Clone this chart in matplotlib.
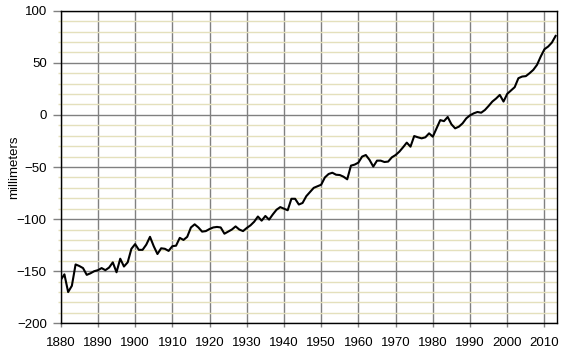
import numpy as np
import matplotlib
matplotlib.use("Agg")
import matplotlib.pyplot as plt
from matplotlib.ticker import MultipleLocator

# ===============================
# Dados
# ===============================
anos = list(range(1880, 2014))

nivel_mm = [
    -158.4, -153.0, -170.0, -164.0, -143.5, -145.0, -147.0, -153.5, -152.0, -150.0,
    -149.0, -147.0, -149.0, -146.5, -141.5, -151.0, -138.0, -145.5, -141.5, -128.5,
    -124.0, -129.5, -129.5, -124.5, -117.0, -126.0, -133.5, -128.0, -128.5, -130.5,
    -126.0, -125.5, -118.0, -120.0, -117.0, -108.0, -105.0, -108.0, -112.0, -111.5,
    -109.5, -108.0, -107.5, -108.0, -114.0, -112.0, -110.0, -107.0, -110.0, -111.5,
    -108.5, -106.0, -102.5, -97.5, -101.5, -97.0, -100.5, -95.5, -91.0, -88.5,
    -90.0, -91.5, -80.5, -80.5, -86.0, -84.5, -78.0, -74.0, -70.0, -68.5,
    -67.0, -60.0, -56.7, -55.5, -57.4, -57.7, -59.3, -61.8, -48.7, -47.7,
    -45.8, -40.0, -38.5, -43.2, -49.6, -43.9, -43.9, -45.2, -44.8, -40.7,
    -38.5, -35.3, -31.1, -26.6, -30.5, -20.3, -21.5, -22.5, -21.5, -17.7,
    -20.9, -12.9, -5.0, -6.0, -2.0, -9.0, -12.9, -11.3, -8.1, -3.3,
    -0.4, 1.5, 2.8, 2.1, 4.7, 8.6, 12.8, 15.7, 19.2, 12.8,
    20.2, 23.4, 26.6, 35.2, 36.8, 37.2, 40.0, 43.2, 48.0, 56.0,
    63.0, 65.6, 69.4, 75.8,
]

# ===============================
# Figura
# ===============================
plt.rcParams["font.family"] = ["Liberation Sans", "DejaVu Sans"]
plt.rcParams["font.size"] = 9.5

fig = plt.figure(figsize=(5.71, 3.60), dpi=100)
ax = fig.add_axes([0.1063, 0.1019, 0.975 - 0.1063, 0.9703 - 0.1019])

ax.plot(anos, nivel_mm, color="black", linewidth=1.5, zorder=3)

ax.set_xlim(1880, 2013.3)
ax.set_ylim(-200, 100)

ax.xaxis.set_major_locator(MultipleLocator(10))
ax.yaxis.set_major_locator(MultipleLocator(50))
ax.yaxis.set_minor_locator(MultipleLocator(10))

ax.set_axisbelow(True)
ax.grid(True, which="minor", axis="y", color="#e4e0bc", linewidth=1.0)
ax.grid(True, which="major", axis="both", color="#808080", linewidth=1.0)

ax.tick_params(axis="y", which="major", length=6, width=1, color="#808080", pad=4)
ax.tick_params(axis="y", which="minor", length=2.5, width=1, color="#e4e0bc")
ax.tick_params(axis="x", which="major", length=3, width=1, color="#808080", pad=7)

for s in ax.spines.values():
    s.set_color("black")
    s.set_linewidth(1.0)
    s.set_zorder(4)

ax.set_ylabel("millimeters")
ax.yaxis.set_label_coords(-0.082, 0.5)

fig.savefig("out.png", dpi=100)
